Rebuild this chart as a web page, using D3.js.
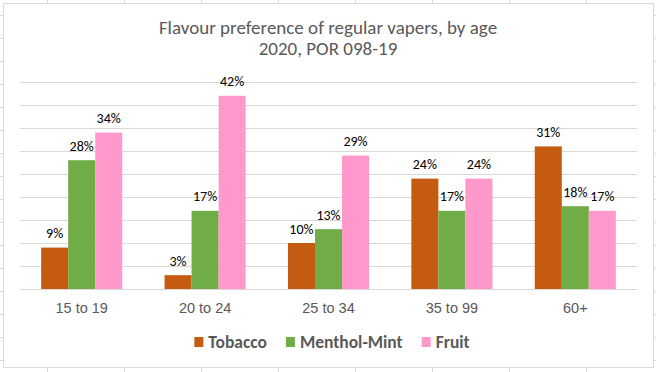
<!DOCTYPE html>
<html>
<head>
<meta charset="utf-8">
<script src="https://cdn.jsdelivr.net/npm/d3@7"></script>
<style>
  body { margin: 0; background: #fff; }
  svg { display: block; font-family: Calibri, Carlito, "Liberation Sans", sans-serif; }
</style>
</head>
<body>
<svg id="chart" width="656" height="372"></svg>
<script>
const categories = ["15 to 19", "20 to 24", "25 to 34", "35 to 99", "60+"];
const seriesNames = ["Tobacco", "Menthol-Mint", "Fruit"];
const tobacco = [9, 3, 10, 24, 31];
const mentholMint = [28, 17, 13, 17, 18];
const fruit = [34, 42, 29, 24, 17];
const yTicks = [0, 5, 10, 15, 20, 25, 30, 35, 40, 45];
const titleLines = ["Flavour preference of regular vapers, by age", "2020, POR 098-19"];

const colors = { "Tobacco": "#C55A11", "Menthol-Mint": "#70AD47", "Fruit": "#FF99CC" };
const values = { "Tobacco": tobacco, "Menthol-Mint": mentholMint, "Fruit": fruit };

const svg = d3.select("#chart");
const W = 656, H = 372;
const grid = "#D9D9D9";

// spreadsheet cells peeking out around the chart object
const bg = svg.append("g").attr("class", "sheet");
d3.range(15, H, 23).forEach(y => {
    bg.append("line").attr("x1", 0).attr("x2", 3).attr("y1", y + 0.5).attr("y2", y + 0.5).attr("stroke", grid);
    bg.append("line").attr("x1", 654).attr("x2", W).attr("y1", y + 0.5).attr("y2", y + 0.5).attr("stroke", grid);
});
d3.range(47, W, 77).forEach(x => {
    bg.append("line").attr("x1", x + 0.5).attr("x2", x + 0.5).attr("y1", 0).attr("y2", 3).attr("stroke", grid);
    bg.append("line").attr("x1", x + 0.5).attr("x2", x + 0.5).attr("y1", 368).attr("y2", H).attr("stroke", grid);
});

// chart frame
svg.append("rect")
    .attr("x", 3.5).attr("y", 3.5).attr("width", 650).attr("height", 364)
    .attr("fill", "#fff").attr("stroke", grid);

// title
svg.append("g").selectAll("text")
    .data(titleLines)
    .enter()
    .append("text")
    .attr("x", 328)
    .attr("y", (d, i) => 34 + i * 21)
    .attr("text-anchor", "middle")
    .attr("font-size", 19)
    .attr("fill", "#595959")
    .text(d => d);

const plot = { left: 20, right: 637, top: 82, bottom: 289 };

const x0 = d3.scaleBand().domain(categories).range([plot.left, plot.right]);
const barW = x0.bandwidth() * 0.219;
const x1 = d3.scaleBand().domain(seriesNames)
    .range([(x0.bandwidth() - 3 * barW) / 2, (x0.bandwidth() + 3 * barW) / 2]);
const y = d3.scaleLinear().domain([0, 45]).range([plot.bottom, plot.top]);

// horizontal gridlines
svg.append("g")
    .attr("transform", `translate(${plot.left},0)`)
    .call(d3.axisLeft(y).tickValues(yTicks).tickSize(-(plot.right - plot.left)).tickFormat(""))
    .call(g => g.select(".domain").remove())
    .call(g => g.selectAll(".tick line").attr("stroke", grid));

// bars
const groups = svg.append("g").selectAll("g")
    .data(categories)
    .enter()
    .append("g")
    .attr("transform", d => `translate(${x0(d)},0)`);

const cells = groups.selectAll("g")
    .data((c, i) => seriesNames.map(s => ({ series: s, value: values[s][i] })))
    .enter()
    .append("g");

cells.append("rect")
    .attr("x", d => x1(d.series))
    .attr("y", d => y(d.value))
    .attr("width", x1.bandwidth())
    .attr("height", d => y(0) - y(d.value))
    .attr("fill", d => colors[d.series]);

cells.append("text")
    .attr("x", d => x1(d.series) + x1.bandwidth() / 2)
    .attr("y", d => y(d.value) - 9.5)
    .attr("text-anchor", "middle")
    .attr("font-size", 14)
    .attr("fill", "#000")
    .text(d => d.value + "%");

// baseline + category labels
svg.append("g")
    .attr("transform", `translate(0,${plot.bottom})`)
    .call(d3.axisBottom(x0).tickSize(0).tickPadding(14))
    .call(g => g.select(".domain").attr("stroke", grid))
    .call(g => g.selectAll("text")
        .attr("font-size", 14.5)
        .attr("font-family", null)
        .attr("fill", "#595959"));

// legend
const legend = svg.append("g");
const items = legend.selectAll("g")
    .data(seriesNames)
    .enter()
    .append("g");
items.append("rect")
    .attr("y", 337).attr("width", 9).attr("height", 10)
    .attr("fill", d => colors[d]);
items.append("text")
    .attr("x", 14).attr("y", 348)
    .attr("font-size", 17.5)
    .attr("font-weight", "bold")
    .attr("fill", "#595959")
    .text(d => d);

let cursor = 0;
items.each(function () {
    const w = this.getBBox().width;
    d3.select(this).attr("transform", `translate(${cursor},0)`);
    cursor += w + 19;
});
const total = cursor - 19;
legend.attr("transform", `translate(${332 - total / 2},0)`);
</script>
</body>
</html>
